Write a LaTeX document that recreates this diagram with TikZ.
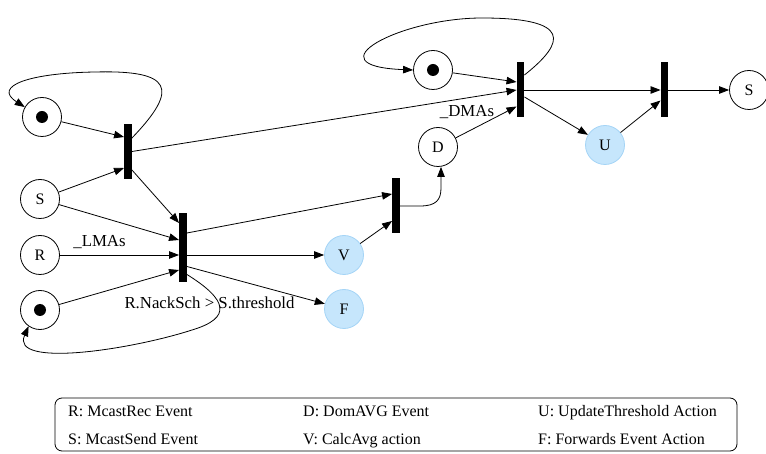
\documentclass[tikz,border=0pt]{standalone}
\usepackage{fontspec}
\setmainfont{Liberation Serif}
\usetikzlibrary{arrows.meta,calc}
\definecolor{actfill}{HTML}{C6E6FC}
\definecolor{actline}{HTML}{A4D4F6}
\begin{document}
\begin{tikzpicture}[x=1pt,y=-1pt,
  every node/.style={font=\fontsize{16}{19}\selectfont},
  place/.style={circle, draw, minimum size=39pt, inner sep=0pt, line width=0.8pt},
  act/.style={place, draw=actline, fill=actfill},
  bar/.style={rectangle, fill=black, draw=none, minimum width=7.5pt, inner sep=0pt},
  arc/.style={-{Triangle[length=10pt,width=7.5pt]}, line width=0.8pt},
  token/.style={fill=black},
  lbl/.style={anchor=base, inner sep=0pt, font=\fontsize{16.8}{20}\selectfont},
  legtext/.style={anchor=base west, inner sep=0pt}]
\useasboundingbox (0,0) rectangle (766,454);

% places
\node[place] (P1) at (42,117) {};
\node[place] (S1) at (40,199) {S};
\node[place] (R)  at (40,255) {R};
\node[place] (P2) at (40,310) {};
\node[act]   (V)  at (344,255) {V};
\node[act]   (F)  at (344,309) {F};
\node[place] (D)  at (438,147) {D};
\node[place] (P3) at (433,70) {};
\node[act]   (U)  at (605,145) {U};
\node[place] (S2) at (749,90) {S};

% tokens
\fill[token] (P1) circle (6pt);
\fill[token] (P2) circle (6pt);
\fill[token] (P3) circle (6pt);

% transitions
\node[bar, minimum height=55pt] (T1) at (128,151.5) {};
\node[bar, minimum height=69pt] (T2) at (183,247.5) {};
\node[bar, minimum height=55pt] (T3) at (396,205.5) {};
\node[bar, minimum height=55pt] (T4) at (520.5,89.5) {};
\node[bar, minimum height=55pt] (T5) at (664.5,89.5) {};

% arcs around T1
\draw[arc] (P1) -- ($(T1.west)+(0,-14.5)$);
\draw[arc] (S1) -- ($(T1.west)+(0,16.5)$);
\draw[arc] ($(T1.east)+(0,-13.5)$) .. controls (180,88) and (172,70) .. (95,72)
  .. controls (30,73) and (-8,86) .. (P1.150);
\draw[arc] (T1.east) -- ($(T4.west)+(0,0.5)$);
\draw[arc] ($(T1.east)+(0,18.5)$) -- ($(T2.west)+(0,-24.5)$);

% arcs around T2
\draw[arc] (S1) -- ($(T2.west)+(0,-7.5)$);
\draw[arc] (R) -- (T2.west |- R) node[lbl] (lma) at (99.5,247) {\_LMAs};
\draw[arc] (P2) -- ($(T2.west)+(0,22.5)$);
\draw[arc] ($(T2.east)+(0,27)$) .. controls (228,300) and (232,318) .. (192,330)
  .. controls (130,350) and (10,368) .. (P2.235);
\node[lbl] (guard) at (209.5,309) {R.NackSch > S.threshold};
\draw[arc] ($(T2.east)+(0,-14.5)$) -- ($(T3.west)+(0,-11.5)$);
\draw[arc] (T2.east |- V) -- (V);
\draw[arc] ($(T2.east)+(0,19)$) -- (F);

% arcs around T3
\draw[arc] (V) -- ($(T3.west)+(0,15.5)$);
\draw[arc] ($(T3.east)+(0,0.5)$) -- (420,206) .. controls (436,206) and (441,200) .. (441,188)
  -- ($(D.south)+(3,0)$);

% arcs around T4
\draw[arc] (D) -- ($(T4.west)+(0,17)$) node[lbl] (dma) at (467,117) {\_DMAs};
\draw[arc] (P3) -- ($(T4.west)+(0,-7.5)$);
\draw[arc] ($(T4.east)+(0,-14.5)$) .. controls (566,42) and (572,18) .. (482,18)
  .. controls (400,18) and (310,66) .. (P3.west);
\draw[arc] ($(T4.east)+(0,0.5)$) -- ($(T5.west)+(0,0.5)$);
\draw[arc] ($(T4.east)+(0,7.5)$) -- (U);

% arcs around T5
\draw[arc] (U) -- ($(T5.west)+(0,11)$);
\draw[arc] ($(T5.east)+(0,0.5)$) -- (S2);

% legend
\draw[line width=0.8pt, rounded corners=7pt] (55,398) rectangle (737,451);
\node[legtext] (l1) at (68,417) {R: McastRec Event};
\node[legtext] (l2) at (68,444) {S: McastSend Event};
\node[legtext] (l3) at (303,417) {D: DomAVG Event};
\node[legtext] (l4) at (303,444) {V: CalcAvg action};
\node[legtext] (l5) at (538,417) {U: UpdateThreshold Action};
\node[legtext] (l6) at (538,444) {F: Forwards Event Action};
\end{tikzpicture}
\end{document}
